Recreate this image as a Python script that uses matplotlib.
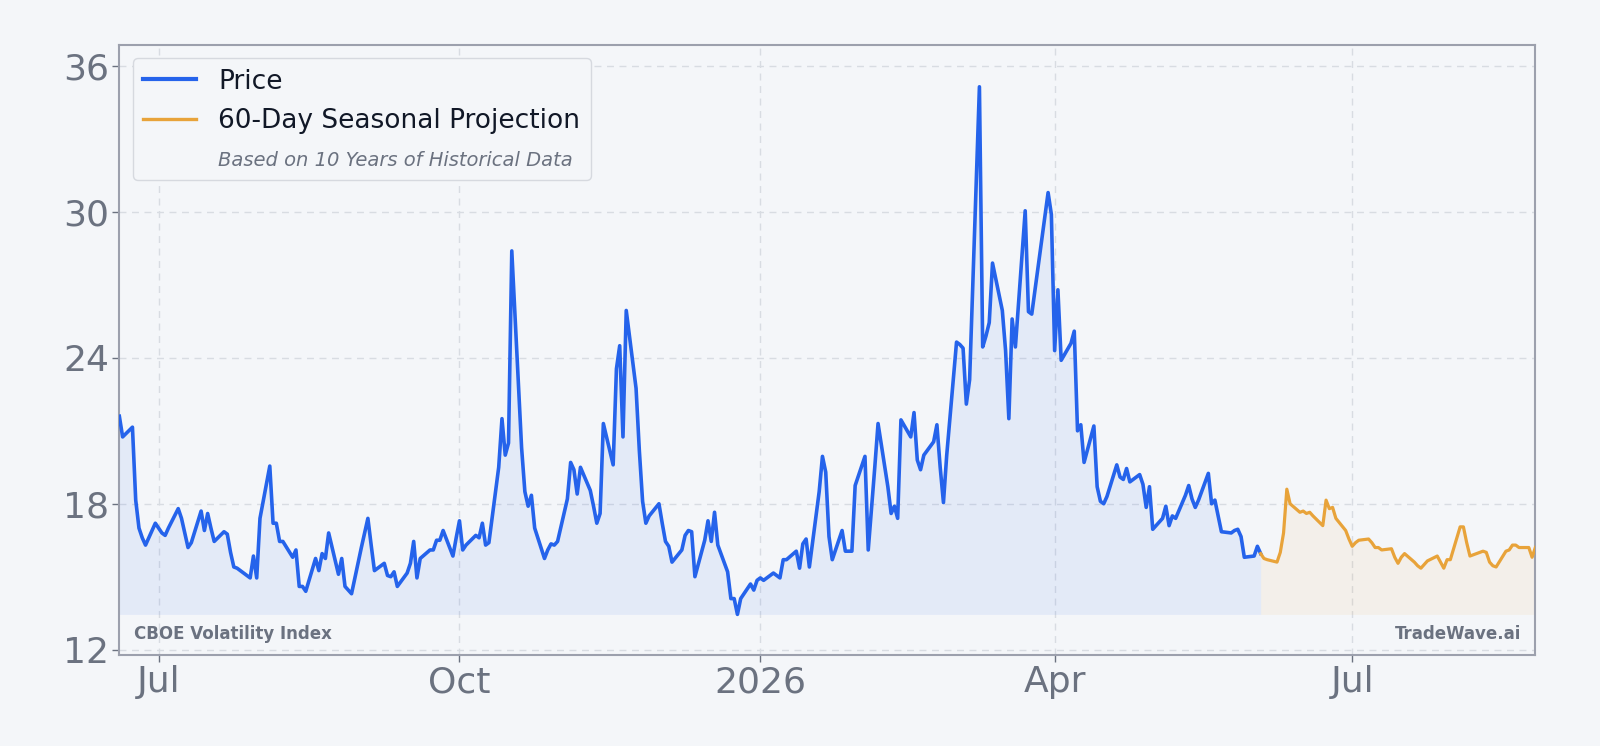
import matplotlib
matplotlib.use("Agg")
import matplotlib.pyplot as plt
from matplotlib.lines import Line2D
import numpy as np
import pandas as pd

# VIX closes, one value per business day
price_jun25 = [21.6, 20.75, 21.15, 18.15, 17.0, 16.6, 16.3, 17.2]
price_jul25 = [17.0, 16.8, 16.7, 17.0, 17.8, 17.4, 16.8, 16.2, 16.4, 17.7, 16.9, 17.6,
               17.0, 16.45, 16.85, 16.75, 16.0, 15.4, 15.35, 15.05, 14.95, 15.85, 14.95]
price_aug25 = [17.4, 19.55, 17.2, 17.2, 16.45, 16.45, 15.8, 16.1, 14.6, 14.6, 14.4,
               15.75, 15.25, 15.95, 15.75, 16.8, 15.1, 15.75, 14.6, 14.45, 14.3]
price_sep25 = [16.2, 16.8, 17.4, 16.3, 15.25, 15.55, 15.05, 15.0, 15.2, 14.6, 15.15,
               15.55, 16.45, 14.95, 15.75, 16.1, 16.1, 16.5, 16.5, 16.9, 15.85, 16.6]
price_oct25 = [17.3, 16.1, 16.3, 16.7, 16.6, 17.2, 16.3, 16.4, 19.5, 21.5, 20.0, 20.5,
               28.4, 20.3, 18.5, 17.9, 18.35, 17.0, 15.75, 16.1, 16.35, 16.3, 16.45]
price_nov25 = [18.2, 19.7, 19.4, 18.4, 19.5, 18.55, 17.9, 17.2, 17.6, 21.3, 19.6, 23.55,
               24.5, 20.75, 25.95, 22.75, 20.2, 18.1, 17.2, 17.5]
price_dec25 = [18.0, 17.2, 16.45, 16.25, 15.6, 16.1, 16.7, 16.9, 16.85, 15.0, 16.5, 17.3,
               16.45, 17.65, 16.3, 15.2, 14.1, 14.1, 13.45, 14.1, 14.7, 14.45, 14.85]
price_jan26 = [14.95, 14.85, 15.15, 15.05, 14.95, 15.7, 15.7, 16.05, 15.35, 16.35, 16.55,
               15.4, 18.5, 19.95, 19.3, 16.65, 15.7, 16.9, 16.05, 16.05, 16.05, 18.75]
price_feb26 = [19.95, 16.1, 17.8, 19.5, 21.3, 18.7, 17.6, 17.9, 17.4, 21.45, 20.75, 21.75,
               19.8, 19.4, 20.0, 20.55, 21.25, 19.5, 18.05, 20.0]
price_mar26 = [24.65, 24.55, 24.4, 22.1, 23.1, 35.15, 24.45, 24.9, 25.45, 27.9, 25.95,
               24.3, 21.5, 25.6, 24.45, 30.05, 25.9, 25.8, 26.8, 27.8, 30.8, 29.9]
price_apr26 = [24.3, 26.8, 23.9, 24.6, 25.1, 21.0, 21.25, 19.7, 21.2, 18.7, 18.1, 18.0,
               18.3, 19.6, 19.1, 19.0, 19.45, 18.9, 19.2, 18.8, 17.85, 18.7]
price_may26 = [16.95, 17.4, 17.9, 17.1, 17.5, 17.4, 18.35, 18.75, 18.2, 17.85, 18.15,
               19.25, 18.0, 18.15, 17.5, 16.85, 16.8, 16.9, 16.95, 16.65, 15.8]
price_jun26 = [15.85, 16.25, 15.95]

# 60-day seasonal projection
proj_jun26 = [15.75, 15.7, 15.6, 16.0, 16.8, 18.6, 18.0, 17.65, 17.7, 17.6, 17.65, 17.5,
              17.1, 18.15, 17.8, 17.85, 17.4, 16.9, 16.55]
proj_jul26 = [16.25, 16.4, 16.5, 16.55, 16.4, 16.2, 16.2, 16.1, 16.15, 15.8, 15.55, 15.8,
              15.95, 15.6, 15.45, 15.35, 15.5, 15.65, 15.85, 15.6, 15.35, 15.7, 15.7]
proj_aug26 = [17.05, 17.05, 16.4, 15.85, 15.9, 16.05, 16.0, 15.6, 15.45, 15.4, 16.05,
              16.1, 16.3, 16.3, 16.2, 16.2, 15.8, 16.2]

tick_dates = ["2025-07-01", "2025-10-01", "2026-01-01", "2026-04-01", "2026-07-01"]
tick_labels = ["Jul", "Oct", "2026", "Apr", "Jul"]
y_ticks = [12, 18, 24, 30, 36]

price = np.array(price_jun25 + price_jul25 + price_aug25 + price_sep25 + price_oct25
                 + price_nov25 + price_dec25 + price_jan26 + price_feb26 + price_mar26
                 + price_apr26 + price_may26 + price_jun26)
price_dates = pd.bdate_range("2025-06-19", "2026-06-03")
proj = np.array(proj_jun26 + proj_jul26 + proj_aug26)
proj_dates = pd.bdate_range("2026-06-04", periods=len(proj))

# projection starts from the last close
proj_x = price_dates[-1:].append(proj_dates)
proj_y = np.concatenate([price[-1:], proj])

BG = "#f4f6f9"
BLUE = "#2563eb"
ORANGE = "#e8a33a"
GRAY = "#6b7280"

fig = plt.figure(figsize=(16, 7.46), dpi=100, facecolor=BG)
ax = fig.add_axes([0.0746, 0.122, 0.885, 0.8177], facecolor=BG)

base = price.min()
ax.fill_between(price_dates, price, base, color=BLUE, alpha=0.08, lw=0)
ax.fill_between(proj_x, proj_y, base, color=ORANGE, alpha=0.08, lw=0)
ax.plot(price_dates, price, color=BLUE, lw=2.6, solid_joinstyle="round", zorder=3)
ax.plot(proj_x, proj_y, color=ORANGE, lw=2.3, solid_joinstyle="round", zorder=3)

ax.set_xlim(price_dates[0], proj_dates[-1])
ax.set_ylim(11.78, 36.87)
ax.set_xticks(pd.to_datetime(tick_dates))
ax.set_xticklabels(tick_labels)
ax.set_yticks(y_ticks)

ax.grid(True, color="#d8dce2", lw=1, linestyle=(0, (5, 4)))
ax.set_axisbelow(True)
for s in ax.spines.values():
    s.set_color("#9ca0ad")
    s.set_linewidth(1.5)
ax.tick_params(axis="both", labelsize=26, colors=GRAY, length=5, width=1, pad=2.5)
ax.tick_params(axis="x", pad=2.5)

handles = [
    Line2D([], [], color=BLUE, lw=3),
    Line2D([], [], color=ORANGE, lw=2.4),
    Line2D([], [], color="none"),
]
labels = ["Price", "60-Day Seasonal Projection", "Based on 10 Years of Historical Data"]
leg = ax.legend(handles, labels, loc="upper left", fontsize=19, handlelength=2.0,
                handletextpad=0.85, labelspacing=0.5, frameon=True, fancybox=True,
                borderpad=0.4)
leg.get_frame().set_facecolor(BG)
leg.get_frame().set_edgecolor("#d6d9df")
leg.get_frame().set_alpha(1)
for t in leg.get_texts()[:2]:
    t.set_color("#111827")
note = leg.get_texts()[2]
note.set_fontstyle("italic")
note.set_fontsize(14)
note.set_color(GRAY)

ax.text(0.0101, 0.035, "CBOE Volatility Index", transform=ax.transAxes, fontsize=12,
        fontweight="bold", color=GRAY, ha="left", va="center")
ax.text(0.99, 0.035, "TradeWave.ai", transform=ax.transAxes, fontsize=12,
        fontweight="bold", color=GRAY, ha="right", va="center")

fig.savefig("out.png", dpi=100, facecolor=BG)
